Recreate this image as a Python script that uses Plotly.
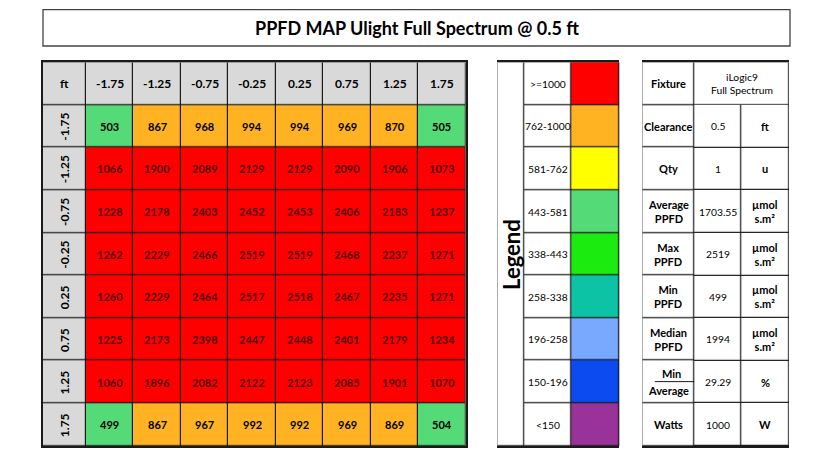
import plotly.graph_objects as go

# ---------------- data ----------------
title = "PPFD MAP Ulight Full Spectrum @ 0.5 ft"
corner_label = "ft"
x_labels = ["-1.75", "-1.25", "-0.75", "-0.25", "0.25", "0.75", "1.25", "1.75"]
y_labels = ["-1.75", "-1.25", "-0.75", "-0.25", "0.25", "0.75", "1.25", "1.75"]
ppfd = [
    [503, 867, 968, 994, 994, 969, 870, 505],
    [1066, 1900, 2089, 2129, 2129, 2090, 1906, 1073],
    [1228, 2178, 2403, 2452, 2453, 2406, 2183, 1237],
    [1262, 2229, 2466, 2519, 2519, 2468, 2237, 1271],
    [1260, 2229, 2464, 2517, 2518, 2467, 2235, 1271],
    [1225, 2173, 2398, 2447, 2448, 2401, 2179, 1234],
    [1060, 1896, 2082, 2122, 2123, 2085, 1901, 1070],
    [499, 867, 967, 992, 992, 969, 869, 504],
]
legend_title = "Legend"
legend_labels = [">=1000", "762-1000", "581-762", "443-581", "338-443",
                 "258-338", "196-258", "150-196", "<150"]
legend_lower = [1000, 762, 581, 443, 338, 258, 196, 150, 0]
legend_colors = ["#FF0000", "#FFB222", "#FFFF00", "#55DA78", "#1BEB0F",
                 "#0CC3A5", "#78A8FF", "#0B4BF0", "#9A3399"]
info_labels = ["Fixture", "Clearance", "Qty", "Average<br>PPFD", "Max<br>PPFD",
               "Min<br>PPFD", "Median<br>PPFD", "Min/Average", "Watts"]
info_values = ["iLogic9<br>Full Spectrum", "0.5", "1", "1703.55", "2519",
               "499", "1994", "29.29", "1000"]
info_units = ["", "ft", "u", "µmol<br>s.m²", "µmol<br>s.m²", "µmol<br>s.m²",
              "µmol<br>s.m²", "%", "W"]

# ---------------- styling ----------------
W, H = 833, 457
FONT = "Lato"
LINE = "#1a1a1a"
HEADER_COLOR = "#D9D9D9"
palette = legend_colors + [HEADER_COLOR, "#FFFFFF"]
HEADER = len(legend_colors)
WHITE = HEADER + 1
n = len(palette)
cscale = []
for i, c in enumerate(palette):
    cscale += [[i / n, c], [(i + 1) / n, c]]


def cls(v):
    for i, lo in enumerate(legend_lower):
        if v >= lo:
            return i
    return len(legend_lower) - 1


def hm(x, y, z, xa, ya):
    return go.Heatmap(x=x, y=y, z=z, colorscale=cscale, zmin=-0.5, zmax=n - 0.5,
                      showscale=False, hoverinfo="skip", xgap=1.2, ygap=1.2,
                      xaxis=xa, yaxis=ya)


def txt(x, y, xr, yr, text, size=11, color="black", angle=0):
    return dict(x=x, y=y, xref=xr, yref=yr, text=text, textangle=angle,
                xanchor="center", yanchor="middle", showarrow=False,
                font=dict(size=size, color=color, family=FONT))


fig = go.Figure()

# ---- main grid ----
hw = 43 / 47.5
nr = len(y_labels)
nc = len(x_labels)
xe = [-hw] + list(range(nc + 1))
ye = list(range(-1, nr + 1))
z = [[HEADER] * (nc + 1)] + [[HEADER] + [cls(v) for v in row] for row in ppfd]
fig.add_trace(hm(xe, ye, z, "x", "y"))

ann = []
ann.append(txt(-hw / 2, -0.5, "x", "y", "<b>%s</b>" % corner_label, 12))
for j, lab in enumerate(x_labels):
    ann.append(txt(j + 0.5, -0.5, "x", "y", "<b>%s</b>" % lab, 12))
for i, lab in enumerate(y_labels):
    ann.append(txt(-hw / 2, i + 0.5, "x", "y", "<b>%s</b>" % lab, 12, angle=-90))
for i, row in enumerate(ppfd):
    for j, v in enumerate(row):
        col = "#520000" if cls(v) == 0 else "black"
        ann.append(txt(j + 0.5, i + 0.5, "x", "y", "<b>%d</b>" % v, 11, col))

# ---- legend table ----
lw = [27, 47.4, 47.6]
le = [0, lw[0], lw[0] + lw[1], sum(lw)]
nl = len(legend_labels)
fig.add_trace(hm([le[0], le[1]], [0, nl], [[WHITE]], "x2", "y2"))
fig.add_trace(hm([le[1], le[2], le[3]], list(range(nl + 1)),
                 [[WHITE, i] for i in range(nl)], "x2", "y2"))
ann.append(txt(le[1] / 2, nl / 2, "x2", "y2", "<b>%s</b>" % legend_title, 22, angle=-90))
for i, lab in enumerate(legend_labels):
    ann.append(txt((le[1] + le[2]) / 2, i + 0.5, "x2", "y2", lab, 10.3))

# ---- info table ----
iw = [52, 47.4, 47.3]
ie = [0, iw[0], iw[0] + iw[1], sum(iw)]
ni = len(info_labels)
fig.add_trace(hm([ie[0], ie[1]], list(range(ni + 1)), [[WHITE] for _ in range(ni)], "x3", "y3"))
fig.add_trace(hm([ie[1], ie[3]], [0, 1], [[WHITE]], "x3", "y3"))
fig.add_trace(hm([ie[1], ie[2], ie[3]], list(range(1, ni + 1)),
                 [[WHITE, WHITE] for _ in range(ni - 1)], "x3", "y3"))
shapes = []
for i, lab in enumerate(info_labels):
    if "/" in lab:
        top, bot = lab.split("/")
        ann.append(txt(ie[1] / 2 + 3, i + 0.3, "x3", "y3", "<b>%s</b>" % top, 11))
        ann.append(txt(ie[1] / 2, i + 0.7, "x3", "y3", "<b>%s</b>" % bot, 11))
        shapes.append(dict(type="line", xref="x3", yref="y3", x0=12.5, x1=ie[1],
                           y0=i + 0.49, y1=i + 0.49, line=dict(color=LINE, width=1)))
    else:
        ann.append(txt(ie[1] / 2, i + 0.5, "x3", "y3", "<b>%s</b>" % lab, 11))
    if i == 0:
        ann.append(txt((ie[1] + ie[3]) / 2, 0.5, "x3", "y3", info_values[i], 10.3))
    else:
        ann.append(txt((ie[1] + ie[2]) / 2, i + 0.5, "x3", "y3", info_values[i], 10.3))
        ann.append(txt((ie[2] + ie[3]) / 2, i + 0.5, "x3", "y3",
                       "<b>%s</b>" % info_units[i], 11))

# ---- title box ----
shapes.append(dict(type="rect", xref="paper", yref="paper", x0=43 / W, x1=790 / W,
                   y0=1 - 46 / H, y1=1 - 9.7 / H, line=dict(color="#444", width=1.3),
                   fillcolor="white", layer="below"))
ann.append(txt((43 + 790) / 2 / W, 1 - 28 / H, "paper", "paper", "<b>%s</b>" % title, 18))

ydom = [1 - 446 / H, 1 - 62.3 / H]
ax = dict(showgrid=False, zeroline=False, showticklabels=False, ticks="",
          showline=True, mirror=True, linecolor=LINE, linewidth=1.5, fixedrange=True)
fig.update_layout(
    width=W, height=H, margin=dict(l=0, r=0, t=0, b=0),
    paper_bgcolor="white", plot_bgcolor=LINE,
    showlegend=False, annotations=ann, shapes=shapes,
    xaxis=dict(ax, domain=[43 / W, 465.7 / W], range=[-hw, nc]),
    yaxis=dict(ax, domain=ydom, range=[nr, -1]),
    xaxis2=dict(ax, domain=[497.3 / W, 619.3 / W], range=[0, le[3]]),
    yaxis2=dict(ax, domain=ydom, range=[nl, 0]),
    xaxis3=dict(ax, domain=[642.3 / W, 789 / W], range=[0, ie[3]]),
    yaxis3=dict(ax, domain=ydom, range=[ni, 0]),
)
fig.write_html("out.html")
